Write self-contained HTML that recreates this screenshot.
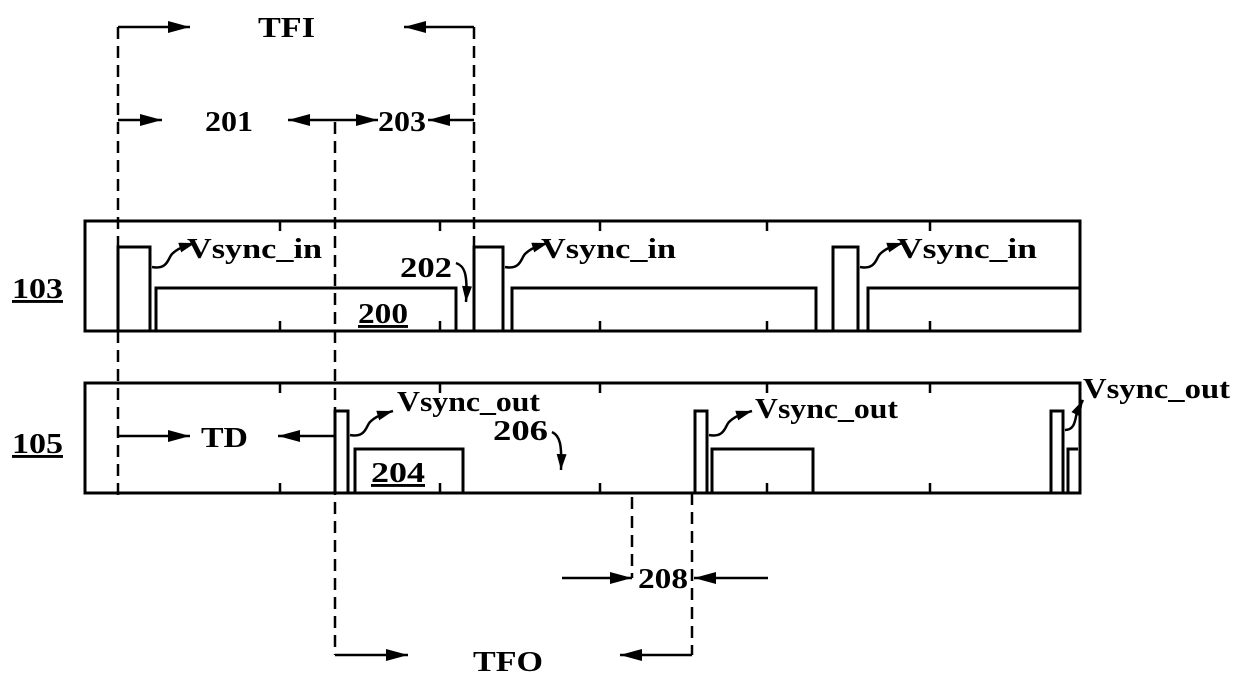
<!DOCTYPE html>
<html><head><style>body{margin:0;background:#fff}svg{display:block}text{font-family:"Liberation Serif",serif;font-weight:bold;font-size:29px;fill:#000}</style></head><body>
<svg width="1239" height="681" viewBox="0 0 1239 681" xmlns="http://www.w3.org/2000/svg">
<defs><marker id="a" markerWidth="16" markerHeight="10" refX="16" refY="5" orient="auto" markerUnits="userSpaceOnUse" viewBox="0 0 16 10"><path d="M0,0 L16,5 L0,10 Z" fill="#000"/></marker>
<marker id="b" markerWidth="22" markerHeight="12" refX="22" refY="6" orient="auto" markerUnits="userSpaceOnUse"><path d="M0,0 L22,6 L0,12 Z" fill="#000"/></marker></defs>
<g stroke="#000" stroke-width="3" fill="none">
<rect x="85" y="221" width="995" height="110"/>
<rect x="85" y="383" width="995" height="110"/>
<path d="M118,331 V247 H150 V331"/><path d="M156,331 V288 H456 V331"/>
<path d="M474,331 V247 H503 V331"/><path d="M512,331 V288 H816 V331"/>
<path d="M833,331 V247 H858 V331"/><path d="M868,331 V288 H1080"/>
<path d="M335,493 V411 H348 V493"/><path d="M355,493 V449 H463 V493"/>
<path d="M695,493 V411 H707 V493"/><path d="M712,493 V449 H813 V493"/>
<path d="M1051,493 V411 H1063 V493"/><path d="M1068,493 V449 H1078"/>
</g>
<g stroke="#000" stroke-width="2.5">
<path d="M280,221v10M440,221v10M600,221v10M767,221v10M930,221v10M280,331v-10M440,331v-10M600,331v-10M767,331v-10M930,331v-10"/>
<path d="M280,383v10M440,383v10M600,383v10M767,383v10M930,383v10M280,493v-10M440,493v-10M600,493v-10M767,493v-10M930,493v-10"/>
</g>
<g stroke="#000" stroke-width="2.5" stroke-dasharray="12,7" fill="none">
<path d="M118,27 V497"/><path d="M335,122 V655"/><path d="M474,27 V331"/><path d="M632,497 V578"/><path d="M692,493 V655"/>
</g>
<g stroke="#000" stroke-width="2.5" fill="none">
<path d="M118,27 H190" marker-end="url(#b)"/><path d="M474,27 H404" marker-end="url(#b)"/>
<path d="M118,120 H162" marker-end="url(#b)"/><path d="M335,120 H288" marker-end="url(#b)"/><path d="M335,120 H378" marker-end="url(#b)"/><path d="M474,120 H428" marker-end="url(#b)"/>
<path d="M118,436 H190" marker-end="url(#b)"/><path d="M335,436 H278" marker-end="url(#b)"/>
<path d="M562,578 H632" marker-end="url(#b)"/><path d="M768,578 H694" marker-end="url(#b)"/>
<path d="M335,655 H408" marker-end="url(#b)"/><path d="M692,655 H620" marker-end="url(#b)"/>
<path d="M152,267 C168,270 168,258 172,254 C178,248 185,246 195,243" marker-end="url(#a)"/>
<path d="M505,267 C521,270 521,258 525,254 C531,248 538,246 548,243" marker-end="url(#a)"/>
<path d="M860,267 C876,270 876,258 880,254 C886,248 893,246 903,243" marker-end="url(#a)"/>
<path d="M350,435 C366,438 366,426 370,422 C376,416 383,414 393,411" marker-end="url(#a)"/>
<path d="M709,435 C725,438 725,426 729,422 C735,416 742,414 752,411" marker-end="url(#a)"/>
<path d="M1065,430 C1075,430 1075,420 1077,412 L1083,400" marker-end="url(#a)"/>
<path d="M456,263 C464,266 468,272 466,302" marker-end="url(#a)"/>
<path d="M552,432 C560,436 562,444 561,470" marker-end="url(#a)"/>
</g>
<text x="258" y="37" textLength="57" lengthAdjust="spacingAndGlyphs">TFI</text>
<text x="205" y="131" textLength="48" lengthAdjust="spacingAndGlyphs">201</text>
<text x="378" y="131" textLength="48" lengthAdjust="spacingAndGlyphs">203</text>
<text x="187" y="258" textLength="135" lengthAdjust="spacingAndGlyphs">Vsync_in</text>
<text x="541" y="258" textLength="135" lengthAdjust="spacingAndGlyphs">Vsync_in</text>
<text x="897" y="258" textLength="140" lengthAdjust="spacingAndGlyphs">Vsync_in</text>
<text x="400" y="277" textLength="52" lengthAdjust="spacingAndGlyphs">202</text>
<text x="358" y="323" textLength="50" lengthAdjust="spacingAndGlyphs" text-decoration="underline">200</text>
<text x="12" y="298" textLength="51" lengthAdjust="spacingAndGlyphs" text-decoration="underline">103</text>
<text x="12" y="453" textLength="51" lengthAdjust="spacingAndGlyphs" text-decoration="underline">105</text>
<text x="397" y="411" textLength="143" lengthAdjust="spacingAndGlyphs">Vsync_out</text>
<text x="755" y="418" textLength="143" lengthAdjust="spacingAndGlyphs">Vsync_out</text>
<text x="1083" y="398" textLength="147" lengthAdjust="spacingAndGlyphs">Vsync_out</text>
<text x="493" y="440" textLength="55" lengthAdjust="spacingAndGlyphs">206</text>
<text x="201" y="447" textLength="47" lengthAdjust="spacingAndGlyphs">TD</text>
<text x="371" y="482" textLength="54" lengthAdjust="spacingAndGlyphs" text-decoration="underline">204</text>
<text x="638" y="588" textLength="50" lengthAdjust="spacingAndGlyphs">208</text>
<text x="473" y="671" textLength="70" lengthAdjust="spacingAndGlyphs">TFO</text>
</svg>
</body></html>
